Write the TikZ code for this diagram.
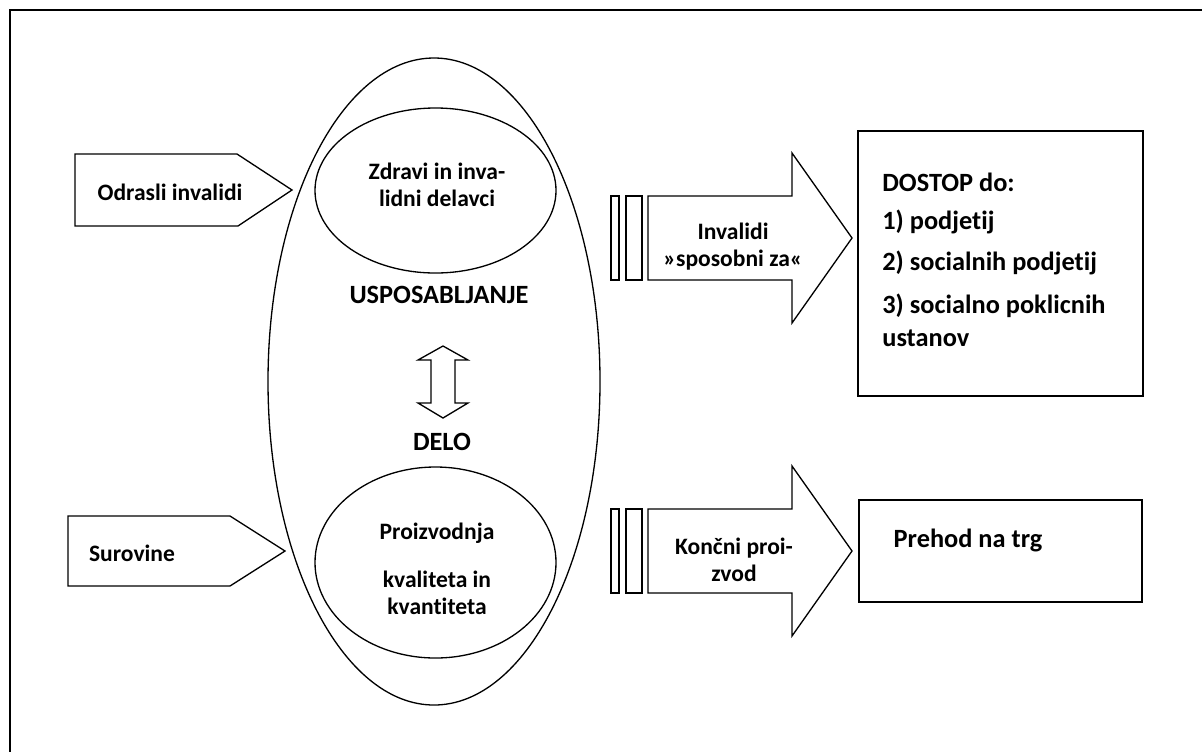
\documentclass[tikz,border=0pt]{standalone}
\usepackage{fontspec}
\setmainfont{Carlito}[Ligatures=NoCommon]
\usetikzlibrary{positioning}
\tikzset{
  txt/.style={font=\fontsize{13.4}{15.4}\selectfont\bfseries, align=center, inner sep=0pt},
  bigtxt/.style={font=\fontsize{15}{19}\selectfont\bfseries, align=left, inner sep=0pt},
  shp/.style={draw, line width=0.75pt, fill=white},
  boxline/.style={draw, line width=1.1pt},
}
\begin{document}
\begin{tikzpicture}[x=0.02cm, y=-0.02cm]
  \clip (0,0) rectangle (1202,751);
  % frame, right and bottom edges run off the page
  \draw [boxline] (10,10) rectangle (1230,780);

  % big ellipse and the two inner ones
  \draw [shp] (434,381.5) ellipse [x radius=166, y radius=323.5];
  \draw [shp] (435.5,190.5) ellipse [x radius=120.5, y radius=82.5];
  \draw [shp] (435.5,562.5) ellipse [x radius=120.5, y radius=95.5];

  % input pentagons
  \draw [shp] (75,154) -- (237,154) -- (292,190) -- (238,226) -- (75,226) -- cycle;
  \draw [shp] (68,516) -- (230,516) -- (285,551) -- (230,586) -- (68,586) -- cycle;
  \node [txt] (odrasli) at (170,192) {Odrasli invalidi};
  \node [txt] (surovine) at (132,553) {Surovine};

  % texts in the ellipses
  \node [txt] (zdravi) at (437,185) {Zdravi in inva-\\lidni delavci};
  \node [bigtxt] (usposab) at (439,295) {USPOSABLJANJE};
  \node [bigtxt] (delo) at (442,442) {DELO};
  \node [txt] (proizv) at (437,533) {Proizvodnja};
  \node [txt] (kvalit) at (437,593) {kvaliteta in\\kvantiteta};

  % double arrow between the two
  \draw [shp] (443,346) -- (468,360) -- (455,360) -- (455,403) -- (468,403) -- (443,418)
    -- (418,403) -- (431,403) -- (431,360) -- (418,360) -- cycle;

  % output block arrows
  \foreach \c in {238,551}
  {
    \draw [shp] (611,\c-42) rectangle (619,\c+42);
    \draw [shp] (626,\c-42) rectangle (642,\c+42);
    \draw [shp] (648,\c-42) -- (792,\c-42) -- (792,\c-85) -- (852,\c) -- (792,\c+85)
      -- (792,\c+42) -- (648,\c+42) -- cycle;
  }
  \node [txt] (sposob) at (733,247) {Invalidi\\»sposobni za«};
  \node [txt] (koncni) at (734,560) {Končni proi-\\zvod};

  % boxes on the right
  \draw [boxline] (858,131) rectangle (1143,396);
  \node [bigtxt, anchor=west] (dostop) at (882,182) {DOSTOP do:};
  \node [bigtxt, anchor=west] (podj) at (882,222) {1) podjetij};
  \node [bigtxt, anchor=west] (socpodj) at (882,263) {2) socialnih podjetij};
  \node [bigtxt, anchor=west] (ustanov) at (882,320) {3) socialno poklicnih\\ustanov};
  \draw [boxline] (859,500) rectangle (1142,602);
  \node [bigtxt] (prehod) at (968,540) {Prehod na trg};
\end{tikzpicture}
\end{document}
